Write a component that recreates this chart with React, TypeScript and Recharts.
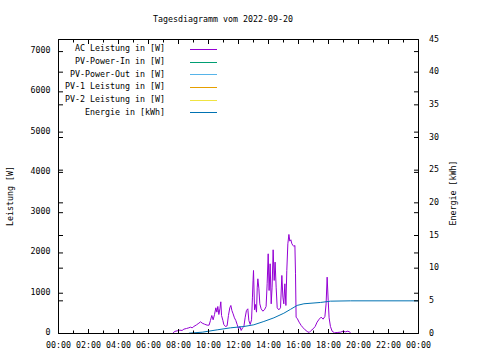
import { ComposedChart, Line, XAxis, YAxis, Legend } from "recharts";

const title = "Tagesdiagramm vom 2022-09-20";

const hourTicks = [0, 1, 2, 3, 4, 5, 6, 7, 8, 9, 10, 11, 12, 13, 14, 15, 16, 17, 18, 19, 20, 21, 22, 23, 24];
const hourLabels = ["00:00", "02:00", "04:00", "06:00", "08:00", "10:00", "12:00", "14:00", "16:00", "18:00", "20:00", "22:00", "00:00"];
const powerTicks = [0, 1000, 2000, 3000, 4000, 5000, 6000, 7000];
const energyTicks = [0, 5, 10, 15, 20, 25, 30, 35, 40, 45];

// AC Leistung [W], time in hours
const acTime = [
  7.64, 7.73, 7.91, 8.09, 8.24, 8.36, 8.53, 8.69, 8.8, 8.91, 9.02, 9.2, 9.36, 9.47, 9.58, 9.73, 9.91, 10.04,
  10.13, 10.22, 10.31, 10.4, 10.49, 10.56, 10.62, 10.69, 10.76, 10.82, 10.87, 10.96, 11.02, 11.13, 11.24,
  11.33, 11.42, 11.49, 11.56, 11.64, 11.73, 11.82, 11.91, 12.0, 12.09, 12.18, 12.27, 12.36, 12.44, 12.53,
  12.62, 12.69, 12.78, 12.87, 12.93, 12.97, 13.0, 13.07, 13.13, 13.2, 13.25, 13.29, 13.36, 13.42, 13.51, 13.62, 13.73,
  13.84, 13.91, 13.98, 14.04, 14.11, 14.18, 14.24, 14.31, 14.38, 14.44, 14.51, 14.58, 14.69, 14.8, 14.89,
  14.96, 15.02, 15.09, 15.16, 15.22, 15.29, 15.36, 15.42, 15.49, 15.56, 15.62, 15.69, 15.76, 15.8, 15.84,
  15.93, 16.04, 16.18, 16.31, 16.44, 16.58, 16.71, 16.84, 16.98, 17.11, 17.24, 17.38, 17.51, 17.64, 17.76,
  17.84, 17.91, 17.98, 18.04, 18.13, 18.24, 18.4, 18.58, 18.8, 18.98, 19.13, 19.29, 19.47,
];
const acWatt = [
  8, 50, 66, 83, 75, 108, 124, 141, 157, 141, 174, 215, 257, 290, 257, 232, 207, 207,
  323, 447, 340, 472, 638, 530, 671, 472, 613, 787, 447, 323, 224, 174, 190,
  447, 638, 696, 571, 489, 389, 323, 224, 116, 174, 75, 141, 174, 389, 571,
  613, 323, 224, 340, 903, 1310, 1565, 588, 720, 530, 1150, 1358, 1110, 737, 613, 555, 588,
  671, 1234, 1979, 1068, 1731, 737, 1151, 2078, 1317, 1772, 1151, 638, 588, 638, 1441,
  903, 737, 1234, 696, 1565, 2227, 2459, 2294, 2327, 2227, 2194, 2161, 2186, 1482, 406,
  364, 282, 199, 141, 91, 50, 25, 75, 116, 174, 282, 356, 406, 356, 422,
  737, 1399, 820, 389, 174, 58, 17, 25, 33, 58, 41, 58, 25,
];

// Energie [kWh]
const energyTime = [8.69, 9.58, 10.58, 11.47, 12.36, 13.02, 13.69, 14.36, 15.02, 15.47, 15.91, 16.36, 17.47, 18.13, 19.47, 24];
const energyKwh = [0.05, 0.2, 0.56, 0.87, 1.07, 1.33, 1.84, 2.4, 3.1, 3.7, 4.3, 4.55, 4.75, 4.95, 5.0, 5.0];

const seriesNames = [
  "AC Leistung in [W]",
  "PV-Power-In in [W]",
  "PV-Power-Out in [W]",
  "PV-1 Leistung in [W]",
  "PV-2 Leistung in [W]",
  "Energie in [kWh]",
];
const seriesColors = ["#9400d3", "#009e73", "#56b4e9", "#e69f00", "#f0e442", "#0072b2"];

const acData = acTime.map((t, i) => ({ t, w: acWatt[i] }));
const energyData = energyTime.map((t, i) => ({ t, e: energyKwh[i] }));

const FONT = "'DejaVu Sans Mono', monospace";
const FS = 8.3;

const BottomTick = ({ x, y, payload }: any) => {
  const major = payload.value % 2 === 0;
  return (
    <g>
      <line x1={x} y1={y} x2={x} y2={y - (major ? 4.5 : 3)} stroke="#000" />
      {major && (
        <text x={x} y={y + 11} textAnchor="middle" dominantBaseline="central" fontSize={FS} fill="#000">
          {hourLabels[payload.value / 2]}
        </text>
      )}
    </g>
  );
};

const TopTick = ({ x, y, payload }: any) => (
  <line x1={x} y1={y} x2={x} y2={y + (payload.value % 2 === 0 ? 4.5 : 3)} stroke="#000" />
);

const LeftTick = ({ x, y, payload }: any) => (
  <g>
    <line x1={x} y1={y} x2={x + 4.5} y2={y} stroke="#000" />
    <text x={x - 8} y={y - 1.5} textAnchor="end" dominantBaseline="central" fontSize={FS} fill="#000">
      {payload.value}
    </text>
  </g>
);

const RightTick = ({ x, y, payload }: any) => (
  <g>
    <line x1={x} y1={y} x2={x - 4.5} y2={y} stroke="#000" />
    <text x={x + 10.5} y={y - 1} textAnchor="start" dominantBaseline="central" fontSize={FS} fill="#000">
      {payload.value}
    </text>
  </g>
);

const LeftMirrorTick = ({ x, y }: any) => <line x1={x} y1={y} x2={x + 4.5} y2={y} stroke="#000" />;
const RightMirrorTick = ({ x, y }: any) => <line x1={x} y1={y} x2={x - 4.5} y2={y} stroke="#000" />;

function GnuLegend() {
  return (
    <div style={{ fontFamily: FONT, fontSize: FS, color: "#000" }}>
      {seriesNames.map((name, i) => (
        <div key={name} style={{ display: "flex", alignItems: "center", height: 12.7 }}>
          <span style={{ width: 125, textAlign: "right", whiteSpace: "pre" }}>{name}</span>
          <span style={{ width: 27, marginLeft: 25, borderTop: `1px solid ${seriesColors[i]}`, marginTop: 2 }} />
        </div>
      ))}
    </div>
  );
}

export default function App() {
  return (
    <div style={{ position: "absolute", left: 0, top: 0, width: 480, height: 360, background: "#fff", fontFamily: FONT }}>
      <ComposedChart width={480} height={360} margin={{ top: 39.5, right: 0, bottom: 0, left: 0 }}>
        <XAxis
          xAxisId="b"
          dataKey="t"
          type="number"
          domain={[0, 24]}
          ticks={hourTicks}
          interval={0}
          height={26.5}
          tickSize={0}
          tickMargin={0}
          tickLine={false}
          axisLine={{ stroke: "#000" }}
          tick={BottomTick}
          allowDataOverflow
        />
        <XAxis
          xAxisId="t"
          orientation="top"
          mirror
          dataKey="t"
          type="number"
          domain={[0, 24]}
          ticks={hourTicks}
          interval={0}
          tickSize={0}
          tickMargin={0}
          tickLine={false}
          axisLine={{ stroke: "#000" }}
          tick={TopTick}
          allowDataOverflow
          label={{
            content: () => (
              <text x={223} y={19} textAnchor="middle" dominantBaseline="central" fontSize={FS} fill="#000">
                {title}
              </text>
            ),
          }}
        />
        <YAxis
          yAxisId="w"
          width={58.5}
          type="number"
          domain={[0, 7300]}
          ticks={powerTicks}
          interval={0}
          tickSize={0}
          tickMargin={0}
          tickLine={false}
          axisLine={{ stroke: "#000" }}
          tick={LeftTick}
          allowDataOverflow
          label={{
            content: () => (
              <text x={10} y={196} transform="rotate(-90 10 196)" textAnchor="middle" dominantBaseline="central" fontSize={FS} fill="#000">
                Leistung [W]
              </text>
            ),
          }}
        />
        <YAxis
          yAxisId="wMirror"
          orientation="right"
          mirror
          type="number"
          domain={[0, 7300]}
          ticks={powerTicks}
          interval={0}
          tickSize={0}
          tickMargin={0}
          tickLine={false}
          axisLine={false}
          tick={RightMirrorTick}
          allowDataOverflow
        />
        <YAxis
          yAxisId="e"
          orientation="right"
          width={61.5}
          type="number"
          domain={[0, 45]}
          ticks={energyTicks}
          interval={0}
          tickSize={0}
          tickMargin={0}
          tickLine={false}
          axisLine={{ stroke: "#000" }}
          tick={RightTick}
          allowDataOverflow
          label={{
            content: () => (
              <text x={453} y={193} transform="rotate(-90 453 193)" textAnchor="middle" dominantBaseline="central" fontSize={FS} fill="#000">
                Energie [kWh]
              </text>
            ),
          }}
        />
        <YAxis
          yAxisId="eMirror"
          orientation="left"
          mirror
          type="number"
          domain={[0, 45]}
          ticks={energyTicks}
          interval={0}
          tickSize={0}
          tickMargin={0}
          tickLine={false}
          axisLine={false}
          tick={LeftMirrorTick}
          allowDataOverflow
        />
        <Legend
          content={GnuLegend}
          layout="vertical"
          align="center"
          verticalAlign="middle"
          wrapperStyle={{ left: 40, top: 42, width: 180, height: 80 }}
        />
        <Line xAxisId="b" yAxisId="w" data={acData} dataKey="w" name={seriesNames[0]} stroke={seriesColors[0]} strokeWidth={1} dot={false} type="linear" isAnimationActive={false} />
        <Line xAxisId="b" yAxisId="w" data={[]} dataKey="pvIn" name={seriesNames[1]} stroke={seriesColors[1]} dot={false} isAnimationActive={false} />
        <Line xAxisId="b" yAxisId="w" data={[]} dataKey="pvOut" name={seriesNames[2]} stroke={seriesColors[2]} dot={false} isAnimationActive={false} />
        <Line xAxisId="b" yAxisId="w" data={[]} dataKey="pv1" name={seriesNames[3]} stroke={seriesColors[3]} dot={false} isAnimationActive={false} />
        <Line xAxisId="b" yAxisId="w" data={[]} dataKey="pv2" name={seriesNames[4]} stroke={seriesColors[4]} dot={false} isAnimationActive={false} />
        <Line xAxisId="b" yAxisId="e" data={energyData} dataKey="e" name={seriesNames[5]} stroke={seriesColors[5]} strokeWidth={1} dot={false} type="linear" isAnimationActive={false} />
      </ComposedChart>
    </div>
  );
}
